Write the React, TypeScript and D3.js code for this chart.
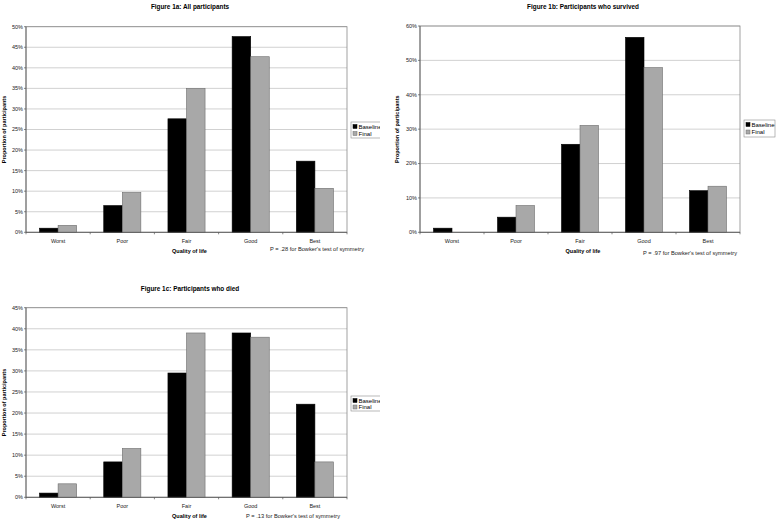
import React from "react";
import * as d3 from "d3";

const categories = ["Worst", "Poor", "Fair", "Good", "Best"];
const seriesNames = ["Baseline", "Final"];

const allBaseline = [1.0, 6.5, 27.6, 47.6, 17.3];
const allFinal = [1.7, 9.7, 35.0, 42.7, 10.7];

const survivedBaseline = [1.2, 4.4, 25.6, 56.7, 12.1];
const survivedFinal = [0, 7.8, 31.1, 47.9, 13.4];

const diedBaseline = [1.0, 8.4, 29.5, 39.0, 22.1];
const diedFinal = [3.2, 11.6, 39.0, 38.0, 8.4];

const titles = [
  "Figure 1a: All participants",
  "Figure 1b: Participants who survived",
  "Figure 1c: Participants who died",
];
const pTexts = [
  "P = .28 for Bowker's test of symmetry",
  "P = .97  for Bowker's test of symmetry",
  "P = .13 for Bowker's test of symmetry",
];
const yMaxes = [50, 60, 45];
const yStepList = [5, 10, 5];

const FONT = "'Liberation Sans', Arial, sans-serif";
const colors = ["#000000", "#a8a8a8"];
const strokes = ["#000000", "#6e6e6e"];

type PanelProps = {
  title: string;
  pText: string;
  baseline: number[];
  final: number[];
  yMax: number;
  yStep: number;
  x0: number;
  x1: number;
  y0: number;
  y1: number;
  titleX: number;
  titleY: number;
  pX: number;
  pY: number;
  legX: number;
  legY: number;
  legW: number;
  legH: number;
  yLabelX: number;
  clip?: string;
};

function Panel(p: PanelProps) {
  const x = d3.scaleBand<string>().domain(categories).range([p.x0, p.x1]).padding(0);
  const y = d3.scaleLinear().domain([0, p.yMax]).range([p.y1, p.y0]);
  const ticks = d3.range(0, p.yMax + 0.001, p.yStep);
  const bw = x.bandwidth();
  const groupW = bw / 1.73;
  const barW = groupW / 2;
  const series = [p.baseline, p.final];
  const cx = (p.x0 + p.x1) / 2;
  return (
    <g clipPath={p.clip}>
      <text x={p.titleX} y={p.titleY} textAnchor="middle" fontFamily={FONT} fontWeight="bold" fontSize={6.4} fill="#000">
        {p.title}
      </text>
      {/* gridlines */}
      {ticks.map((t) => (
        <line key={"g" + t} x1={p.x0} x2={p.x1} y1={y(t)} y2={y(t)} stroke="#bdbdbd" strokeWidth={0.7} />
      ))}
      {/* plot border */}
      <rect x={p.x0} y={p.y0} width={p.x1 - p.x0} height={p.y1 - p.y0} fill="none" stroke="#8a8a8a" strokeWidth={0.8} />
      {/* bars */}
      {series.map((vals, si) =>
        vals.map((v, i) => {
          const bx = (x(categories[i]) as number) + (bw - groupW) / 2 + si * barW;
          if (v <= 0) return null;
          return (
            <rect
              key={si + "-" + i}
              x={bx}
              y={y(v)}
              width={barW}
              height={y(0) - y(v)}
              fill={colors[si]}
              stroke={strokes[si]}
              strokeWidth={0.6}
            />
          );
        })
      )}
      {/* axes */}
      <line x1={p.x0} x2={p.x0} y1={p.y0} y2={p.y1} stroke="#555" strokeWidth={0.8} />
      <line x1={p.x0} x2={p.x1} y1={p.y1} y2={p.y1} stroke="#555" strokeWidth={0.8} />
      {ticks.map((t) => (
        <g key={"t" + t}>
          <line x1={p.x0 - 2} x2={p.x0} y1={y(t)} y2={y(t)} stroke="#555" strokeWidth={0.7} />
          <text x={p.x0 - 3} y={y(t) + 1.9} textAnchor="end" fontFamily={FONT} fontSize={5.5} fill="#222">
            {t + "%"}
          </text>
        </g>
      ))}
      {categories.map((c, i) => (
        <g key={"c" + c}>
          <line x1={x(c) as number} x2={x(c) as number} y1={p.y1} y2={p.y1 + 2} stroke="#555" strokeWidth={0.7} />
          {i === categories.length - 1 && (
            <line x1={p.x1} x2={p.x1} y1={p.y1} y2={p.y1 + 2} stroke="#555" strokeWidth={0.7} />
          )}
          <text x={(x(c) as number) + bw / 2} y={p.y1 + 10.5} textAnchor="middle" fontFamily={FONT} fontSize={5.5} fill="#222">
            {c}
          </text>
        </g>
      ))}
      <text x={cx + 3} y={p.y1 + 21} textAnchor="middle" fontFamily={FONT} fontWeight="bold" fontSize={5.5} fill="#000">
        Quality of life
      </text>
      <text x={p.pX} y={p.pY} fontFamily={FONT} fontSize={5.7} fill="#222">
        {p.pText}
      </text>
      <text
        transform={`translate(${p.yLabelX},${(p.y0 + p.y1) / 2}) rotate(-90)`}
        textAnchor="middle"
        fontFamily={FONT}
        fontWeight="bold"
        fontSize={5.5}
        fill="#000"
      >
        Proportion of participants
      </text>
      {/* legend */}
      <rect x={p.legX} y={p.legY} width={p.legW} height={p.legH} fill="#fff" stroke="#8a8a8a" strokeWidth={0.6} />
      {seriesNames.map((s, i) => (
        <g key={"l" + s}>
          <rect
            x={p.legX + 2}
            y={p.legY + 2.5 + i * (p.legH / 2 - 1)}
            width={4}
            height={4}
            fill={colors[i]}
            stroke={strokes[i]}
            strokeWidth={0.5}
          />
          <text x={p.legX + 7.5} y={p.legY + 6.6 + i * (p.legH / 2 - 1)} fontFamily={FONT} fontSize={6} fill="#000">
            {s}
          </text>
        </g>
      ))}
    </g>
  );
}

export default function App() {
  return (
    <svg
      width={780}
      height={520}
      style={{ position: "absolute", left: 0, top: 0, background: "#fff" }}
      xmlns="http://www.w3.org/2000/svg"
    >
      <defs>
        <clipPath id="leftClip">
          <rect x={0} y={0} width={380} height={520} />
        </clipPath>
      </defs>
      <rect x={0} y={0} width={780} height={520} fill="#fff" />
      <Panel
        title={titles[0]}
        pText={pTexts[0]}
        baseline={allBaseline}
        final={allFinal}
        yMax={yMaxes[0]}
        yStep={yStepList[0]}
        x0={26}
        x1={347}
        y0={26.7}
        y1={232.3}
        titleX={190}
        titleY={8.5}
        pX={270}
        pY={251}
        legX={351}
        legY={122}
        legW={32}
        legH={16}
        yLabelX={6}
        clip="url(#leftClip)"
      />
      <Panel
        title={titles[1]}
        pText={pTexts[1]}
        baseline={survivedBaseline}
        final={survivedFinal}
        yMax={yMaxes[1]}
        yStep={yStepList[1]}
        x0={420}
        x1={740}
        y0={26}
        y1={232.3}
        titleX={583}
        titleY={8.5}
        pX={643}
        pY={255}
        legX={744}
        legY={120}
        legW={31}
        legH={17}
        yLabelX={399}
      />
      <Panel
        title={titles[2]}
        pText={pTexts[2]}
        baseline={diedBaseline}
        final={diedFinal}
        yMax={yMaxes[2]}
        yStep={yStepList[2]}
        x0={26}
        x1={347}
        y0={307.7}
        y1={497.3}
        titleX={190}
        titleY={291}
        pX={246}
        pY={518}
        legX={351}
        legY={396}
        legW={32}
        legH={15}
        yLabelX={6}
        clip="url(#leftClip)"
      />
    </svg>
  );
}
